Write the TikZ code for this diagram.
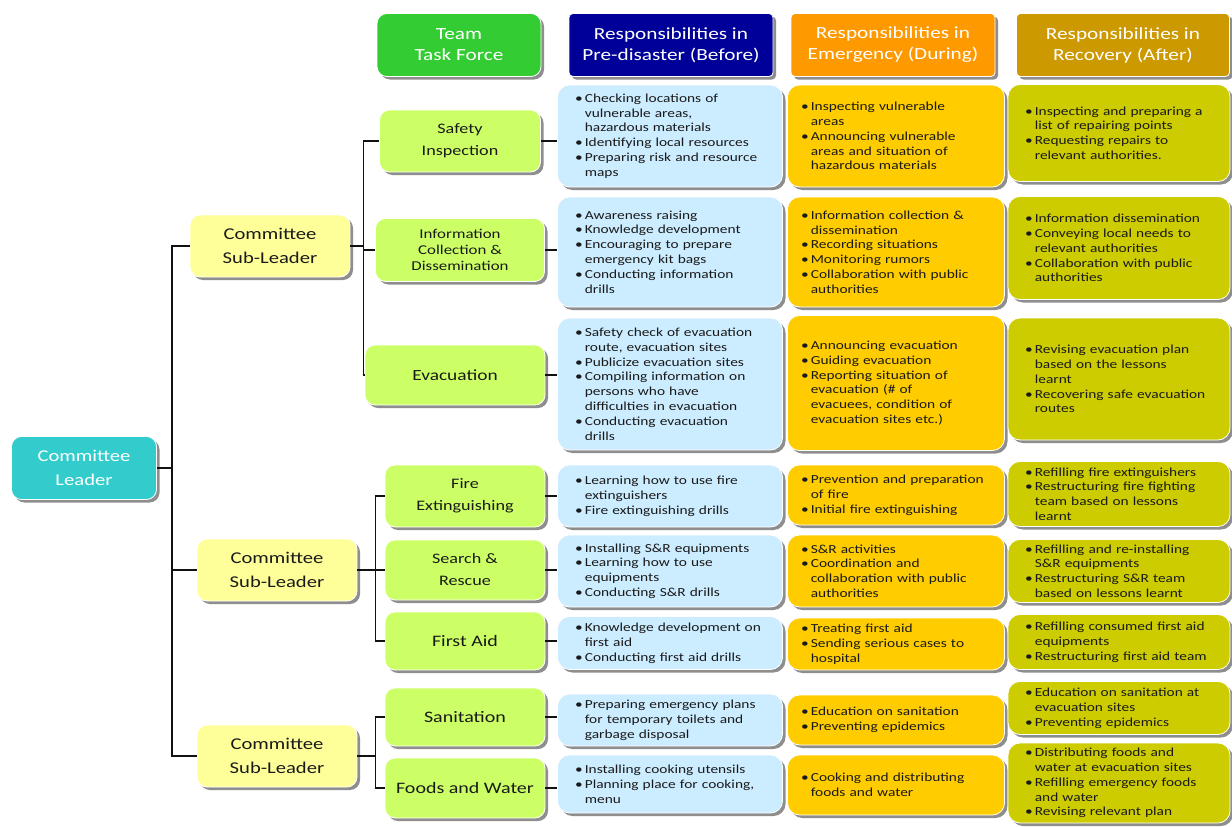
\documentclass[tikz,border=0pt]{standalone}
\usepackage{fontspec}
\setmainfont{Carlito}[FakeStretch=1.25]
\usepackage{tikz}
\usetikzlibrary{shadows}
\definecolor{Ink}{HTML}{1A1A1A}
\definecolor{Wire}{HTML}{111111}
\definecolor{Shade}{HTML}{8E8E8E}
\definecolor{Teal}{HTML}{33CCCC}
\definecolor{PaleYellow}{HTML}{FFFF99}
\definecolor{Lime}{HTML}{CCFF66}
\definecolor{TeamGreen}{HTML}{33CC33}
\definecolor{Navy}{HTML}{000099}
\definecolor{Orange}{HTML}{FF9900}
\definecolor{Gold}{HTML}{CC9900}
\definecolor{SkySoft}{HTML}{CCECFF}
\definecolor{Amber}{HTML}{FFCC00}
\definecolor{Olive}{HTML}{CCCC00}
\newcommand{\bitem}[1]{\noindent\hangindent=0.8em\hangafter=1\makebox[0.8em][l]{\textbullet}{\let\\\newline#1}\par}
\tikzset{
  panel/.style={rounded corners=10pt,draw=white,line width=0.8pt,text=Ink,align=center,drop shadow={shadow xshift=3pt,shadow yshift=-3pt,fill=Shade,opacity=1}},
  headbox/.style={panel,rounded corners=4pt,text=white,minimum height=63pt,font=\fontsize{17}{21}\selectfont},
  leadbox/.style={panel,fill=Teal,text=white,minimum width=145pt,minimum height=63pt,font=\fontsize{16.5}{24}\selectfont},
  subbox/.style={panel,fill=PaleYellow,minimum width=160pt,minimum height=62pt,font=\fontsize{16.5}{24}\selectfont},
  taskbox/.style={panel,fill=Lime,minimum width=160pt,minimum height=60pt,font=\fontsize{14.5}{22}\selectfont},
  respbox/.style={panel,rounded corners=12pt,align=left,font=\fontsize{12.3}{14.8}\selectfont},
  respblue/.style={respbox,fill=SkySoft,minimum width=225pt,text width=190pt},
  resporange/.style={respbox,fill=Amber,minimum width=217pt,text width=190pt},
  respolive/.style={respbox,fill=Olive,minimum width=222pt,text width=188pt},
  link/.style={draw=Wire,line width=1.4pt}
}
\begin{document}
\begin{tikzpicture}[x=1pt,y=-1pt]
\useasboundingbox[fill=white] (0,0) rectangle (1232,827);
\node[headbox,fill=TeamGreen,minimum width=164pt,rounded corners=10pt] (hteam) at (459,45) {Team\\Task Force};
\node[headbox,fill=Navy,minimum width=204pt] (hpre) at (671,45) {Responsibilities in\\Pre-disaster (Before)};
\node[headbox,fill=Orange,minimum width=204pt] (hdur) at (893,45) {Responsibilities in\\Emergency (During)};
\node[headbox,fill=Gold,minimum width=213pt] (hpost) at (1123,45) {Responsibilities in\\Recovery (After)};

\node[leadbox] (lead) at (84,468) {Committee\\Leader};
\node[subbox] (sub1) at (270,246) {Committee\\Sub-Leader};
\node[subbox] (sub2) at (277,570) {Committee\\Sub-Leader};
\node[subbox] (sub3) at (277,756) {Committee\\Sub-Leader};

\node[taskbox,minimum width=161pt,minimum height=62pt] (safety) at (460,141) {Safety\\Inspection};
\node[taskbox,minimum width=169pt,minimum height=63pt,font=\fontsize{13.5}{16}\selectfont] (info) at (460,250) {Information\\Collection \&\\Dissemination};
\node[taskbox,minimum width=180pt,font=\fontsize{15.5}{18}\selectfont] (evac) at (455,375) {Evacuation};
\node[taskbox,minimum height=62pt] (fire) at (465,496) {Fire\\Extinguishing};
\node[taskbox] (rescue) at (465,570) {Search \&\\Rescue};
\node[taskbox,minimum height=58pt,font=\fontsize{16}{18}\selectfont] (aid) at (465,641) {First Aid};
\node[taskbox,minimum height=58pt,font=\fontsize{16}{18}\selectfont] (sanit) at (465,717) {Sanitation};
\node[taskbox,font=\fontsize{16}{18}\selectfont] (food) at (465,788) {Foods and Water};

\node[respblue,minimum height=102pt] (pre1) at (670,136) {\bitem{Checking locations of\\vulnerable areas,\\hazardous materials}\bitem{Identifying local resources}\bitem{Preparing risk and resource\\maps}};
\node[respblue,minimum height=110pt] (pre2) at (670,252) {\bitem{Awareness raising}\bitem{Knowledge development}\bitem{Encouraging to prepare\\emergency kit bags}\bitem{Conducting information\\drills}};
\node[respblue,minimum height=132pt] (pre3) at (670,384) {\bitem{Safety check of evacuation\\route, evacuation sites}\bitem{Publicize evacuation sites}\bitem{Compiling information on\\persons who have\\difficulties in evacuation}\bitem{Conducting evacuation\\drills}};
\node[respblue,minimum height=62pt] (pre4) at (670,496) {\bitem{Learning how to use fire\\extinguishers}\bitem{Fire extinguishing drills}};
\node[respblue,minimum height=72pt] (pre5) at (670,571) {\bitem{Installing S\&R equipments}\bitem{Learning how to use\\equipments}\bitem{Conducting S\&R drills}};
\node[respblue,minimum height=53pt] (pre6) at (670,643) {\bitem{Knowledge development on\\first aid}\bitem{Conducting first aid drills}};
\node[respblue,minimum height=52pt] (pre7) at (670,720) {\bitem{Preparing emergency plans\\for temporary toilets and\\garbage disposal}};
\node[respblue,minimum height=58pt] (pre8) at (670,784) {\bitem{Installing cooking utensils}\bitem{Planning place for cooking,\\menu}};

\node[resporange,minimum height=102pt] (dur1) at (896,136) {\bitem{Inspecting vulnerable\\areas}\bitem{Announcing vulnerable\\areas and situation of\\hazardous materials}};
\node[resporange,minimum height=110pt] (dur2) at (896,252) {\bitem{Information collection \&\\dissemination}\bitem{Recording situations}\bitem{Monitoring rumors}\bitem{Collaboration with public\\authorities}};
\node[resporange,minimum height=135pt] (dur3) at (896,383) {\bitem{Announcing evacuation}\bitem{Guiding evacuation}\bitem{Reporting situation of\\evacuation (\# of\\evacuees, condition of\\evacuation sites etc.)}};
\node[resporange,minimum height=60pt] (dur4) at (896,495) {\bitem{Prevention and preparation\\of fire}\bitem{Initial fire extinguishing}};
\node[resporange,minimum height=72pt] (dur5) at (896,571) {\bitem{S\&R activities}\bitem{Coordination and\\collaboration with public\\authorities}};
\node[resporange,minimum height=52pt] (dur6) at (896,644) {\bitem{Treating first aid}\bitem{Sending serious cases to\\hospital}};
\node[resporange,minimum height=50pt] (dur7) at (896,720) {\bitem{Education on sanitation}\bitem{Preventing epidemics}};
\node[resporange,minimum height=60pt] (dur8) at (896,785) {\bitem{Cooking and distributing\\foods and water}};

\node[respolive,minimum height=97pt] (post1) at (1119,133) {\bitem{Inspecting and preparing a\\list of repairing points}\bitem{Requesting repairs to\\relevant authorities.}};
\node[respolive,minimum height=103pt] (post2) at (1119,248) {\bitem{Information dissemination}\bitem{Conveying local needs to\\relevant authorities}\bitem{Collaboration with public\\authorities}};
\node[respolive,minimum height=122pt] (post3) at (1119,379) {\bitem{Revising evacuation plan\\based on the lessons\\learnt}\bitem{Recovering safe evacuation\\routes}};
\node[respolive,minimum height=65pt] (post4) at (1119,494) {\bitem{Refilling fire extinguishers}\bitem{Restructuring fire fighting\\team based on lessons\\learnt}};
\node[respolive,minimum height=63pt] (post5) at (1119,571) {\bitem{Refilling and re-installing\\S\&R equipments}\bitem{Restructuring S\&R team\\based on lessons learnt}};
\node[respolive,minimum height=55pt] (post6) at (1119,642) {\bitem{Refilling consumed first aid\\equipments}\bitem{Restructuring first aid team}};
\node[respolive,minimum height=53pt] (post7) at (1119,708) {\bitem{Education on sanitation at\\evacuation sites}\bitem{Preventing epidemics}};
\node[respolive,minimum height=80pt] (post8) at (1119,783) {\bitem{Distributing foods and\\water at evacuation sites}\bitem{Refilling emergency foods\\and water}\bitem{Revising relevant plan}};

\foreach \s in {sub1,sub2,sub3} \draw[link] (lead.east) -- +(15,0) |- (\s.west);
\foreach \t in {safety,info,evac} \draw[link] (sub1.east) -- +(13,0) |- (\t.west);
\foreach \t in {fire,rescue,aid} \draw[link] (sub2.east) -- +(18,0) |- (\t.west);
\foreach \t in {sanit,food} \draw[link] (sub3.east) -- +(18,0) |- (\t.west);
\foreach \t/\c in {safety/pre1,info/pre2,evac/pre3,fire/pre4,rescue/pre5,aid/pre6,sanit/pre7,food/pre8} \draw[link] (\t.east) -- (\t.east -| \c.west);
\end{tikzpicture}
\end{document}
